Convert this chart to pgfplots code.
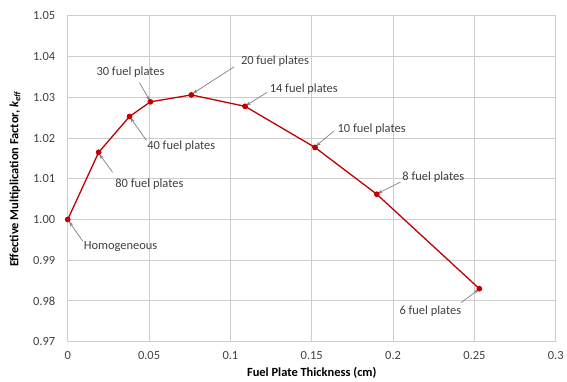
\documentclass[border=0pt]{standalone}
\usepackage{pgfplots}
\pgfplotsset{compat=1.18}
\usepackage{fontspec}
\setmainfont{Carlito}
\usetikzlibrary{arrows.meta}
\definecolor{dred}{RGB}{192,0,0}
\definecolor{gridc}{RGB}{205,205,205}
\definecolor{txt}{RGB}{64,64,64}
\begin{document}
\begin{tikzpicture}
\begin{axis}[
  scale only axis,
  width=490pt, height=327pt,
  xmin=0, xmax=0.3, ymin=0.97, ymax=1.05,
  xtick={0,0.05,0.1,0.15,0.2,0.25,0.3},
  ytick={0.97,0.98,0.99,1.00,1.01,1.02,1.03,1.04,1.05},
  yticklabel style={/pgf/number format/fixed,/pgf/number format/fixed zerofill,/pgf/number format/precision=2, xshift=-9pt},
  xticklabel style={/pgf/number format/fixed,/pgf/number format/precision=2, yshift=-6pt},
  /pgf/number format/assume math mode=true,
  grid=major,
  grid style={gridc, line width=0.9pt},
  axis line style={gridc, line width=0.9pt},
  major tick length=0pt,
  tick label style={font=\fontsize{12.5}{15}\selectfont, text=txt},
  xlabel={\textbf{Fuel Plate Thickness (cm)}},
  ylabel={\textbf{Effective Multiplication Factor, \textit{k}\textsubscript{\textit{eff}}}},
  label style={font=\fontsize{12.5}{15}\selectfont, text=black},
  xlabel style={yshift=-1pt},
  ylabel style={yshift=6pt},
  clip=false,
]
\addplot[dred, line width=1.3pt, mark=*, mark size=2.2pt, mark options={fill=dred}] coordinates {
(0,1.0000) (0.019,1.0165) (0.038,1.0253) (0.0508,1.0289) (0.076,1.0306)
(0.109,1.0278) (0.152,1.0177) (0.190,1.0062) (0.253,0.9830)};
\tikzset{ann/.style={font=\fontsize{12.5}{15}\selectfont, text=txt, inner sep=1pt},
  arr/.style={gray, line width=0.7pt, -{Stealth[length=5pt,width=3.5pt]}}}
\node[ann] at (axis cs:0.0386,1.0363) {30 fuel plates};
\draw[arr] (axis cs:0.0441,1.0336) -- (axis cs:0.0505,1.0292);
\node[ann] at (axis cs:0.0698,1.0180) {40 fuel plates};
\draw[arr] (axis cs:0.0484,1.0194) -- (axis cs:0.0385,1.0250);
\node[ann] at (axis cs:0.0502,1.0087) {80 fuel plates};
\draw[arr] (axis cs:0.0276,1.0116) -- (axis cs:0.0195,1.0160);
\node[ann] at (axis cs:0.0325,0.9933) {Homogeneous};
\draw[arr] (axis cs:0.0092,0.9947) -- (axis cs:0.0008,0.9995);
\node[ann] at (axis cs:0.1274,1.0390) {20 fuel plates};
\draw[arr] (axis cs:0.1023,1.0375) -- (axis cs:0.0770,1.0310);
\node[ann] at (axis cs:0.1451,1.0319) {14 fuel plates};
\draw[arr] (axis cs:0.1225,1.0312) -- (axis cs:0.1095,1.0280);
\node[ann] at (axis cs:0.1868,1.0222) {10 fuel plates};
\draw[arr] (axis cs:0.1635,1.0217) -- (axis cs:0.1525,1.0180);
\node[ann] at (axis cs:0.2247,1.0104) {8 fuel plates};
\draw[arr] (axis cs:0.2045,1.0092) -- (axis cs:0.1905,1.0064);
\node[ann] at (axis cs:0.2229,0.9774) {6 fuel plates};
\draw[arr] (axis cs:0.2419,0.9796) -- (axis cs:0.2525,0.9828);
\end{axis}
\path[use as bounding box] (-68pt,-40pt) rectangle (499pt,343pt);
\end{tikzpicture}
\end{document}
